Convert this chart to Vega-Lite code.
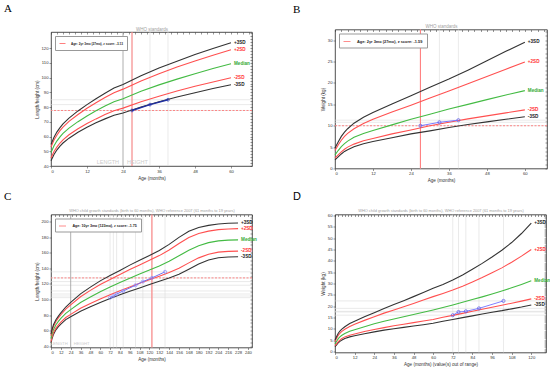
{
"$schema":"https://vega.github.io/schema/vega-lite/v6.json",
"padding":{"left":3,"top":2.5,"right":2,"bottom":2},
"background":"white",
"config":{"font":"Liberation Sans","view":{"stroke":"#222","strokeWidth":0.8},
"axis":{"grid":false,"domain":false,"labelOverlap":false,"labelFontSize":4.2,"titleFontSize":4.6,"titleFontWeight":"normal","labelColor":"#333","titleColor":"#333","tickSize":2,"tickWidth":0.5,"tickColor":"#333","labelPadding":1,"titlePadding":2},
"title":{"fontWeight":"normal","color":"#000","anchor":"start","frame":"group"}},
"datasets":{
"A_curves":[
{"month":0,"value":43.6,"sd":"-3SD"},{"month":1,"value":47.8,"sd":"-3SD"},{"month":2,"value":51.0,"sd":"-3SD"},{"month":3,"value":53.5,"sd":"-3SD"},{"month":4,"value":55.6,"sd":"-3SD"},{"month":6,"value":58.9,"sd":"-3SD"},{"month":9,"value":62.9,"sd":"-3SD"},{"month":12,"value":66.3,"sd":"-3SD"},{"month":15,"value":69.3,"sd":"-3SD"},{"month":18,"value":72.0,"sd":"-3SD"},{"month":21,"value":74.5,"sd":"-3SD"},{"month":24,"value":76.0,"sd":"-3SD"},{"month":30,"value":80.1,"sd":"-3SD"},{"month":36,"value":83.6,"sd":"-3SD"},{"month":42,"value":86.8,"sd":"-3SD"},{"month":48,"value":89.8,"sd":"-3SD"},{"month":54,"value":92.6,"sd":"-3SD"},{"month":60,"value":95.2,"sd":"-3SD"},
{"month":0,"value":45.4,"sd":"-2SD"},{"month":1,"value":49.8,"sd":"-2SD"},{"month":2,"value":53.0,"sd":"-2SD"},{"month":3,"value":55.6,"sd":"-2SD"},{"month":4,"value":57.8,"sd":"-2SD"},{"month":6,"value":61.2,"sd":"-2SD"},{"month":9,"value":65.3,"sd":"-2SD"},{"month":12,"value":68.9,"sd":"-2SD"},{"month":15,"value":72.0,"sd":"-2SD"},{"month":18,"value":74.9,"sd":"-2SD"},{"month":21,"value":77.5,"sd":"-2SD"},{"month":24,"value":79.3,"sd":"-2SD"},{"month":30,"value":83.6,"sd":"-2SD"},{"month":36,"value":87.4,"sd":"-2SD"},{"month":42,"value":90.9,"sd":"-2SD"},{"month":48,"value":94.1,"sd":"-2SD"},{"month":54,"value":97.1,"sd":"-2SD"},{"month":60,"value":99.9,"sd":"-2SD"},
{"month":0,"value":49.1,"sd":"Median"},{"month":1,"value":53.7,"sd":"Median"},{"month":2,"value":57.1,"sd":"Median"},{"month":3,"value":59.8,"sd":"Median"},{"month":4,"value":62.1,"sd":"Median"},{"month":6,"value":65.7,"sd":"Median"},{"month":9,"value":70.1,"sd":"Median"},{"month":12,"value":74.0,"sd":"Median"},{"month":15,"value":77.5,"sd":"Median"},{"month":18,"value":80.7,"sd":"Median"},{"month":21,"value":83.7,"sd":"Median"},{"month":24,"value":85.7,"sd":"Median"},{"month":30,"value":90.7,"sd":"Median"},{"month":36,"value":95.1,"sd":"Median"},{"month":42,"value":99.0,"sd":"Median"},{"month":48,"value":102.7,"sd":"Median"},{"month":54,"value":106.2,"sd":"Median"},{"month":60,"value":109.4,"sd":"Median"},
{"month":0,"value":52.9,"sd":"+2SD"},{"month":1,"value":57.6,"sd":"+2SD"},{"month":2,"value":61.1,"sd":"+2SD"},{"month":3,"value":64.0,"sd":"+2SD"},{"month":4,"value":66.4,"sd":"+2SD"},{"month":6,"value":70.3,"sd":"+2SD"},{"month":9,"value":75.0,"sd":"+2SD"},{"month":12,"value":79.2,"sd":"+2SD"},{"month":15,"value":83.0,"sd":"+2SD"},{"month":18,"value":86.5,"sd":"+2SD"},{"month":21,"value":89.8,"sd":"+2SD"},{"month":24,"value":92.2,"sd":"+2SD"},{"month":30,"value":97.7,"sd":"+2SD"},{"month":36,"value":102.7,"sd":"+2SD"},{"month":42,"value":107.2,"sd":"+2SD"},{"month":48,"value":111.3,"sd":"+2SD"},{"month":54,"value":115.2,"sd":"+2SD"},{"month":60,"value":118.9,"sd":"+2SD"},
{"month":0,"value":54.7,"sd":"+3SD"},{"month":1,"value":59.5,"sd":"+3SD"},{"month":2,"value":63.2,"sd":"+3SD"},{"month":3,"value":66.1,"sd":"+3SD"},{"month":4,"value":68.6,"sd":"+3SD"},{"month":6,"value":72.5,"sd":"+3SD"},{"month":9,"value":77.4,"sd":"+3SD"},{"month":12,"value":81.7,"sd":"+3SD"},{"month":15,"value":85.7,"sd":"+3SD"},{"month":18,"value":89.4,"sd":"+3SD"},{"month":21,"value":92.9,"sd":"+3SD"},{"month":24,"value":95.4,"sd":"+3SD"},{"month":30,"value":101.3,"sd":"+3SD"},{"month":36,"value":106.5,"sd":"+3SD"},{"month":42,"value":111.2,"sd":"+3SD"},{"month":48,"value":115.7,"sd":"+3SD"},{"month":54,"value":119.8,"sd":"+3SD"},{"month":60,"value":123.7,"sd":"+3SD"}],
"B_curves":[
{"month":0,"value":2.0,"sd":"-3SD"},{"month":1,"value":2.7,"sd":"-3SD"},{"month":2,"value":3.4,"sd":"-3SD"},{"month":3,"value":4.0,"sd":"-3SD"},{"month":4,"value":4.4,"sd":"-3SD"},{"month":6,"value":5.1,"sd":"-3SD"},{"month":9,"value":5.8,"sd":"-3SD"},{"month":12,"value":6.3,"sd":"-3SD"},{"month":18,"value":7.2,"sd":"-3SD"},{"month":24,"value":8.1,"sd":"-3SD"},{"month":30,"value":8.8,"sd":"-3SD"},{"month":36,"value":9.6,"sd":"-3SD"},{"month":42,"value":10.3,"sd":"-3SD"},{"month":48,"value":10.9,"sd":"-3SD"},{"month":54,"value":11.5,"sd":"-3SD"},{"month":60,"value":12.1,"sd":"-3SD"},
{"month":0,"value":2.4,"sd":"-2SD"},{"month":1,"value":3.2,"sd":"-2SD"},{"month":2,"value":3.9,"sd":"-2SD"},{"month":3,"value":4.5,"sd":"-2SD"},{"month":4,"value":5.0,"sd":"-2SD"},{"month":6,"value":5.7,"sd":"-2SD"},{"month":9,"value":6.5,"sd":"-2SD"},{"month":12,"value":7.0,"sd":"-2SD"},{"month":18,"value":8.1,"sd":"-2SD"},{"month":24,"value":9.0,"sd":"-2SD"},{"month":30,"value":10.0,"sd":"-2SD"},{"month":36,"value":10.8,"sd":"-2SD"},{"month":42,"value":11.6,"sd":"-2SD"},{"month":48,"value":12.3,"sd":"-2SD"},{"month":54,"value":13.0,"sd":"-2SD"},{"month":60,"value":13.7,"sd":"-2SD"},
{"month":0,"value":3.2,"sd":"Median"},{"month":1,"value":4.2,"sd":"Median"},{"month":2,"value":5.1,"sd":"Median"},{"month":3,"value":5.8,"sd":"Median"},{"month":4,"value":6.4,"sd":"Median"},{"month":6,"value":7.3,"sd":"Median"},{"month":9,"value":8.2,"sd":"Median"},{"month":12,"value":8.9,"sd":"Median"},{"month":18,"value":10.2,"sd":"Median"},{"month":24,"value":11.5,"sd":"Median"},{"month":30,"value":12.7,"sd":"Median"},{"month":36,"value":13.9,"sd":"Median"},{"month":42,"value":15.0,"sd":"Median"},{"month":48,"value":16.1,"sd":"Median"},{"month":54,"value":17.2,"sd":"Median"},{"month":60,"value":18.2,"sd":"Median"},
{"month":0,"value":4.2,"sd":"+2SD"},{"month":1,"value":5.5,"sd":"+2SD"},{"month":2,"value":6.6,"sd":"+2SD"},{"month":3,"value":7.5,"sd":"+2SD"},{"month":4,"value":8.2,"sd":"+2SD"},{"month":6,"value":9.3,"sd":"+2SD"},{"month":9,"value":10.5,"sd":"+2SD"},{"month":12,"value":11.5,"sd":"+2SD"},{"month":18,"value":13.2,"sd":"+2SD"},{"month":24,"value":14.8,"sd":"+2SD"},{"month":30,"value":16.5,"sd":"+2SD"},{"month":36,"value":18.1,"sd":"+2SD"},{"month":42,"value":19.8,"sd":"+2SD"},{"month":48,"value":21.5,"sd":"+2SD"},{"month":54,"value":23.2,"sd":"+2SD"},{"month":60,"value":24.9,"sd":"+2SD"},
{"month":0,"value":4.8,"sd":"+3SD"},{"month":1,"value":6.2,"sd":"+3SD"},{"month":2,"value":7.5,"sd":"+3SD"},{"month":3,"value":8.5,"sd":"+3SD"},{"month":4,"value":9.3,"sd":"+3SD"},{"month":6,"value":10.6,"sd":"+3SD"},{"month":9,"value":12.0,"sd":"+3SD"},{"month":12,"value":13.1,"sd":"+3SD"},{"month":18,"value":15.1,"sd":"+3SD"},{"month":24,"value":17.0,"sd":"+3SD"},{"month":30,"value":19.0,"sd":"+3SD"},{"month":36,"value":20.9,"sd":"+3SD"},{"month":42,"value":23.0,"sd":"+3SD"},{"month":48,"value":25.2,"sd":"+3SD"},{"month":54,"value":27.4,"sd":"+3SD"},{"month":60,"value":29.5,"sd":"+3SD"}],
"C_curves":[
{"month":0,"value":44.2,"sd":"-3SD"},{"month":1,"value":48.9,"sd":"-3SD"},{"month":3,"value":55.3,"sd":"-3SD"},{"month":6,"value":61.2,"sd":"-3SD"},{"month":9,"value":65.2,"sd":"-3SD"},{"month":12,"value":68.6,"sd":"-3SD"},{"month":18,"value":74.2,"sd":"-3SD"},{"month":24,"value":78.0,"sd":"-3SD"},{"month":36,"value":85.0,"sd":"-3SD"},{"month":48,"value":90.7,"sd":"-3SD"},{"month":60,"value":96.1,"sd":"-3SD"},{"month":72,"value":101.3,"sd":"-3SD"},{"month":84,"value":106.1,"sd":"-3SD"},{"month":96,"value":110.5,"sd":"-3SD"},{"month":108,"value":114.9,"sd":"-3SD"},{"month":120,"value":119.2,"sd":"-3SD"},{"month":132,"value":123.3,"sd":"-3SD"},{"month":144,"value":127.5,"sd":"-3SD"},{"month":156,"value":132.3,"sd":"-3SD"},{"month":168,"value":138.9,"sd":"-3SD"},{"month":180,"value":145.6,"sd":"-3SD"},{"month":192,"value":150.7,"sd":"-3SD"},{"month":204,"value":153.6,"sd":"-3SD"},{"month":216,"value":154.5,"sd":"-3SD"},{"month":228,"value":154.9,"sd":"-3SD"},
{"month":0,"value":46.1,"sd":"-2SD"},{"month":1,"value":50.8,"sd":"-2SD"},{"month":3,"value":57.3,"sd":"-2SD"},{"month":6,"value":63.3,"sd":"-2SD"},{"month":9,"value":67.5,"sd":"-2SD"},{"month":12,"value":71.0,"sd":"-2SD"},{"month":18,"value":76.9,"sd":"-2SD"},{"month":24,"value":81.0,"sd":"-2SD"},{"month":36,"value":88.7,"sd":"-2SD"},{"month":48,"value":94.9,"sd":"-2SD"},{"month":60,"value":100.7,"sd":"-2SD"},{"month":72,"value":106.2,"sd":"-2SD"},{"month":84,"value":111.3,"sd":"-2SD"},{"month":96,"value":116.1,"sd":"-2SD"},{"month":108,"value":120.8,"sd":"-2SD"},{"month":120,"value":125.4,"sd":"-2SD"},{"month":132,"value":129.9,"sd":"-2SD"},{"month":144,"value":134.7,"sd":"-2SD"},{"month":156,"value":140.2,"sd":"-2SD"},{"month":168,"value":147.0,"sd":"-2SD"},{"month":180,"value":153.4,"sd":"-2SD"},{"month":192,"value":158.1,"sd":"-2SD"},{"month":204,"value":160.8,"sd":"-2SD"},{"month":216,"value":161.7,"sd":"-2SD"},{"month":228,"value":162.1,"sd":"-2SD"},
{"month":0,"value":49.9,"sd":"Median"},{"month":1,"value":54.7,"sd":"Median"},{"month":3,"value":61.4,"sd":"Median"},{"month":6,"value":67.6,"sd":"Median"},{"month":9,"value":72.0,"sd":"Median"},{"month":12,"value":75.7,"sd":"Median"},{"month":18,"value":82.3,"sd":"Median"},{"month":24,"value":87.1,"sd":"Median"},{"month":36,"value":96.1,"sd":"Median"},{"month":48,"value":103.3,"sd":"Median"},{"month":60,"value":110.0,"sd":"Median"},{"month":72,"value":116.0,"sd":"Median"},{"month":84,"value":121.7,"sd":"Median"},{"month":96,"value":127.3,"sd":"Median"},{"month":108,"value":132.6,"sd":"Median"},{"month":120,"value":137.8,"sd":"Median"},{"month":132,"value":143.1,"sd":"Median"},{"month":144,"value":149.1,"sd":"Median"},{"month":156,"value":156.0,"sd":"Median"},{"month":168,"value":163.2,"sd":"Median"},{"month":180,"value":169.0,"sd":"Median"},{"month":192,"value":172.9,"sd":"Median"},{"month":204,"value":175.2,"sd":"Median"},{"month":216,"value":176.1,"sd":"Median"},{"month":228,"value":176.5,"sd":"Median"},
{"month":0,"value":53.7,"sd":"+2SD"},{"month":1,"value":58.6,"sd":"+2SD"},{"month":3,"value":65.5,"sd":"+2SD"},{"month":6,"value":71.9,"sd":"+2SD"},{"month":9,"value":76.5,"sd":"+2SD"},{"month":12,"value":80.5,"sd":"+2SD"},{"month":18,"value":87.7,"sd":"+2SD"},{"month":24,"value":93.2,"sd":"+2SD"},{"month":36,"value":103.5,"sd":"+2SD"},{"month":48,"value":111.7,"sd":"+2SD"},{"month":60,"value":119.2,"sd":"+2SD"},{"month":72,"value":125.8,"sd":"+2SD"},{"month":84,"value":132.1,"sd":"+2SD"},{"month":96,"value":138.5,"sd":"+2SD"},{"month":108,"value":144.4,"sd":"+2SD"},{"month":120,"value":150.2,"sd":"+2SD"},{"month":132,"value":156.3,"sd":"+2SD"},{"month":144,"value":163.5,"sd":"+2SD"},{"month":156,"value":171.8,"sd":"+2SD"},{"month":168,"value":179.4,"sd":"+2SD"},{"month":180,"value":184.6,"sd":"+2SD"},{"month":192,"value":187.7,"sd":"+2SD"},{"month":204,"value":189.6,"sd":"+2SD"},{"month":216,"value":190.5,"sd":"+2SD"},{"month":228,"value":190.9,"sd":"+2SD"},
{"month":0,"value":55.6,"sd":"+3SD"},{"month":1,"value":60.6,"sd":"+3SD"},{"month":3,"value":67.6,"sd":"+3SD"},{"month":6,"value":74.0,"sd":"+3SD"},{"month":9,"value":78.7,"sd":"+3SD"},{"month":12,"value":82.9,"sd":"+3SD"},{"month":18,"value":90.4,"sd":"+3SD"},{"month":24,"value":96.3,"sd":"+3SD"},{"month":36,"value":107.2,"sd":"+3SD"},{"month":48,"value":115.9,"sd":"+3SD"},{"month":60,"value":123.9,"sd":"+3SD"},{"month":72,"value":130.7,"sd":"+3SD"},{"month":84,"value":137.3,"sd":"+3SD"},{"month":96,"value":144.1,"sd":"+3SD"},{"month":108,"value":150.3,"sd":"+3SD"},{"month":120,"value":156.4,"sd":"+3SD"},{"month":132,"value":162.9,"sd":"+3SD"},{"month":144,"value":170.7,"sd":"+3SD"},{"month":156,"value":179.7,"sd":"+3SD"},{"month":168,"value":187.5,"sd":"+3SD"},{"month":180,"value":192.4,"sd":"+3SD"},{"month":192,"value":195.1,"sd":"+3SD"},{"month":204,"value":196.8,"sd":"+3SD"},{"month":216,"value":197.7,"sd":"+3SD"},{"month":228,"value":198.1,"sd":"+3SD"}],
"D_curves":[
{"month":0,"value":2.1,"sd":"-3SD"},{"month":1,"value":2.9,"sd":"-3SD"},{"month":2,"value":3.8,"sd":"-3SD"},{"month":3,"value":4.4,"sd":"-3SD"},{"month":4,"value":4.9,"sd":"-3SD"},{"month":6,"value":5.7,"sd":"-3SD"},{"month":9,"value":6.4,"sd":"-3SD"},{"month":12,"value":6.9,"sd":"-3SD"},{"month":18,"value":7.8,"sd":"-3SD"},{"month":24,"value":8.6,"sd":"-3SD"},{"month":30,"value":9.4,"sd":"-3SD"},{"month":36,"value":10.0,"sd":"-3SD"},{"month":42,"value":10.6,"sd":"-3SD"},{"month":48,"value":11.2,"sd":"-3SD"},{"month":54,"value":11.8,"sd":"-3SD"},{"month":60,"value":12.4,"sd":"-3SD"},{"month":66,"value":13.3,"sd":"-3SD"},{"month":72,"value":14.1,"sd":"-3SD"},{"month":78,"value":14.9,"sd":"-3SD"},{"month":84,"value":15.7,"sd":"-3SD"},{"month":90,"value":16.5,"sd":"-3SD"},{"month":96,"value":17.3,"sd":"-3SD"},{"month":102,"value":18.0,"sd":"-3SD"},{"month":108,"value":18.8,"sd":"-3SD"},{"month":114,"value":19.6,"sd":"-3SD"},{"month":120,"value":20.5,"sd":"-3SD"},
{"month":0,"value":2.5,"sd":"-2SD"},{"month":1,"value":3.4,"sd":"-2SD"},{"month":2,"value":4.3,"sd":"-2SD"},{"month":3,"value":5.0,"sd":"-2SD"},{"month":4,"value":5.6,"sd":"-2SD"},{"month":6,"value":6.4,"sd":"-2SD"},{"month":9,"value":7.1,"sd":"-2SD"},{"month":12,"value":7.7,"sd":"-2SD"},{"month":18,"value":8.8,"sd":"-2SD"},{"month":24,"value":9.7,"sd":"-2SD"},{"month":30,"value":10.5,"sd":"-2SD"},{"month":36,"value":11.3,"sd":"-2SD"},{"month":42,"value":12.0,"sd":"-2SD"},{"month":48,"value":12.7,"sd":"-2SD"},{"month":54,"value":13.4,"sd":"-2SD"},{"month":60,"value":14.1,"sd":"-2SD"},{"month":66,"value":15.1,"sd":"-2SD"},{"month":72,"value":15.9,"sd":"-2SD"},{"month":78,"value":16.8,"sd":"-2SD"},{"month":84,"value":17.7,"sd":"-2SD"},{"month":90,"value":18.6,"sd":"-2SD"},{"month":96,"value":19.5,"sd":"-2SD"},{"month":102,"value":20.4,"sd":"-2SD"},{"month":108,"value":21.3,"sd":"-2SD"},{"month":114,"value":22.2,"sd":"-2SD"},{"month":120,"value":23.2,"sd":"-2SD"},
{"month":0,"value":3.3,"sd":"Median"},{"month":1,"value":4.5,"sd":"Median"},{"month":2,"value":5.6,"sd":"Median"},{"month":3,"value":6.4,"sd":"Median"},{"month":4,"value":7.0,"sd":"Median"},{"month":6,"value":7.9,"sd":"Median"},{"month":9,"value":8.9,"sd":"Median"},{"month":12,"value":9.6,"sd":"Median"},{"month":18,"value":10.9,"sd":"Median"},{"month":24,"value":12.2,"sd":"Median"},{"month":30,"value":13.3,"sd":"Median"},{"month":36,"value":14.3,"sd":"Median"},{"month":42,"value":15.3,"sd":"Median"},{"month":48,"value":16.3,"sd":"Median"},{"month":54,"value":17.3,"sd":"Median"},{"month":60,"value":18.3,"sd":"Median"},{"month":66,"value":19.4,"sd":"Median"},{"month":72,"value":20.5,"sd":"Median"},{"month":78,"value":21.7,"sd":"Median"},{"month":84,"value":22.9,"sd":"Median"},{"month":90,"value":24.1,"sd":"Median"},{"month":96,"value":25.4,"sd":"Median"},{"month":102,"value":26.7,"sd":"Median"},{"month":108,"value":28.1,"sd":"Median"},{"month":114,"value":29.6,"sd":"Median"},{"month":120,"value":31.2,"sd":"Median"},
{"month":0,"value":4.4,"sd":"+2SD"},{"month":1,"value":5.8,"sd":"+2SD"},{"month":2,"value":7.1,"sd":"+2SD"},{"month":3,"value":8.0,"sd":"+2SD"},{"month":4,"value":8.7,"sd":"+2SD"},{"month":6,"value":9.8,"sd":"+2SD"},{"month":9,"value":11.0,"sd":"+2SD"},{"month":12,"value":12.0,"sd":"+2SD"},{"month":18,"value":13.7,"sd":"+2SD"},{"month":24,"value":15.3,"sd":"+2SD"},{"month":30,"value":16.9,"sd":"+2SD"},{"month":36,"value":18.3,"sd":"+2SD"},{"month":42,"value":19.7,"sd":"+2SD"},{"month":48,"value":21.2,"sd":"+2SD"},{"month":54,"value":22.7,"sd":"+2SD"},{"month":60,"value":24.2,"sd":"+2SD"},{"month":66,"value":25.6,"sd":"+2SD"},{"month":72,"value":27.1,"sd":"+2SD"},{"month":78,"value":28.8,"sd":"+2SD"},{"month":84,"value":30.7,"sd":"+2SD"},{"month":90,"value":32.6,"sd":"+2SD"},{"month":96,"value":34.7,"sd":"+2SD"},{"month":102,"value":36.9,"sd":"+2SD"},{"month":108,"value":39.4,"sd":"+2SD"},{"month":114,"value":42.1,"sd":"+2SD"},{"month":120,"value":45.0,"sd":"+2SD"},
{"month":0,"value":5.0,"sd":"+3SD"},{"month":1,"value":6.6,"sd":"+3SD"},{"month":2,"value":8.0,"sd":"+3SD"},{"month":3,"value":9.0,"sd":"+3SD"},{"month":4,"value":9.7,"sd":"+3SD"},{"month":6,"value":10.9,"sd":"+3SD"},{"month":9,"value":12.3,"sd":"+3SD"},{"month":12,"value":13.3,"sd":"+3SD"},{"month":18,"value":15.3,"sd":"+3SD"},{"month":24,"value":17.1,"sd":"+3SD"},{"month":30,"value":19.0,"sd":"+3SD"},{"month":36,"value":20.7,"sd":"+3SD"},{"month":42,"value":22.4,"sd":"+3SD"},{"month":48,"value":24.2,"sd":"+3SD"},{"month":54,"value":26.0,"sd":"+3SD"},{"month":60,"value":27.9,"sd":"+3SD"},{"month":66,"value":29.6,"sd":"+3SD"},{"month":72,"value":31.5,"sd":"+3SD"},{"month":78,"value":33.8,"sd":"+3SD"},{"month":84,"value":36.3,"sd":"+3SD"},{"month":90,"value":38.9,"sd":"+3SD"},{"month":96,"value":41.7,"sd":"+3SD"},{"month":102,"value":44.7,"sd":"+3SD"},{"month":108,"value":48.1,"sd":"+3SD"},{"month":114,"value":52.1,"sd":"+3SD"},{"month":120,"value":56.7,"sd":"+3SD"}],
"A_pts":[{"month":27,"value":77.7},{"month":33,"value":81.7},{"month":39,"value":85.0}],
"B_pts":[{"month":27,"value":10.0},{"month":33,"value":10.8},{"month":39,"value":11.3}],
"C_pts":[{"month":72,"value":102.4},{"month":76,"value":104.5},{"month":80,"value":107.1},{"month":88,"value":111.0},{"month":103,"value":118.3},{"month":112,"value":123.0},{"month":123,"value":127.7},{"month":139,"value":135.5}],
"D_pts":[{"month":72,"value":16.0},{"month":75.5,"value":17.4},{"month":80,"value":17.7},{"month":88,"value":19.0},{"month":103,"value":22.3}],
"A_sel":[{"month":27,"value":77.7,"label":"Age: 2yr 3mo (27mo), z score: -3.13"}],
"B_sel":[{"month":27,"value":10.0,"label":"Age: 2yr 3mo (27mo), z score: -1.59"}],
"C_sel":[{"month":123,"value":127.7,"label":"Age: 10yr 3mo (123mo), z score: -1.75"}],
"LH":[{"month":24,"left":"LENGTH","right":"HEIGHT"}]
},
"columns":2,
"bounds":"flush",
"center":{"row":true,"column":false},
"spacing":{"row":46,"column":83},
"resolve":{"scale":{"color":"independent","stroke":"independent","fill":"independent"},"legend":{"color":"independent"}},
"concat":[
{"width":201,"height":134,
"title":{"text":"A","font":"Liberation Serif","fontSize":11,"dx":-47,"offset":12.3},
"layer":[
{"layer":[
{"data":{"name":"A_pts"},"mark":{"type":"rule","color":"#dcdcdc","strokeWidth":0.6},"encoding":{"x":{"field":"month","type":"quantitative","scale":{"domain":[0,67],"nice":false,"zero":false},"axis":{"values":[0,12,24,36,48,60],"tickCount":100,"format":"d","labelOverlap":false,"title":"Age (months)"}}}},
{"data":{"name":"A_pts"},"mark":{"type":"rule","color":"#dcdcdc","strokeWidth":0.6},"encoding":{"y":{"field":"value","type":"quantitative","scale":{"domain":[40,131],"nice":false,"zero":false},"axis":{"values":[40,50,60,70,80,90,100,110,120],"tickCount":100,"format":"d","labelOverlap":false,"title":"Length/height (cm)"}}}},
{"data":{"name":"LH"},"mark":{"type":"rule","color":"#999","strokeWidth":0.8},"encoding":{"x":{"field":"month","type":"quantitative"}}},
{"data":{"name":"A_sel"},"mark":{"type":"rule","color":"#ff6b6b","strokeWidth":0.8,"strokeDash":[2,1.5]},"encoding":{"y":{"field":"value","type":"quantitative"}}},
{"data":{"name":"A_sel"},"mark":{"type":"rule","strokeWidth":0.9},"encoding":{"x":{"field":"month","type":"quantitative"},"color":{"field":"label","type":"nominal","scale":{"range":["#ff7070"]},"legend":{"orient":"top-left","title":null,"offset":4,"padding":4,"strokeColor":"#999","fillColor":"#fff","labelFontSize":3.1,"labelFontWeight":"bold","labelColor":"#222","symbolType":"stroke","symbolSize":36,"symbolStrokeWidth":0.9,"labelOffset":5,"labelLimit":300}}}},
{"data":{"name":"A_curves"},"mark":{"type":"line","strokeWidth":1.1},"encoding":{"x":{"field":"month","type":"quantitative"},"y":{"field":"value","type":"quantitative"},"stroke":{"field":"sd","type":"nominal","scale":{"domain":["+3SD","+2SD","Median","-2SD","-3SD"],"range":["#333","#ff5050","#44bb44","#ff5050","#333"]},"legend":null}}},
{"data":{"name":"A_pts"},"mark":{"type":"line","color":"#1f2f9f","strokeWidth":1.4,"point":{"filled":false,"size":8,"strokeWidth":0.7,"color":"#2838b8"}},"encoding":{"x":{"field":"month","type":"quantitative"},"y":{"field":"value","type":"quantitative"}}},
{"data":{"name":"A_curves"},"transform":[{"filter":"datum.month == 60"}],"mark":{"type":"text","align":"left","baseline":"middle","dx":3,"fontSize":4.6,"fontWeight":"bold"},"encoding":{"x":{"field":"month","type":"quantitative"},"y":{"field":"value","type":"quantitative"},"text":{"field":"sd"},"fill":{"field":"sd","type":"nominal","scale":{"domain":["+3SD","+2SD","Median","-2SD","-3SD"],"range":["#222","#ff3333","#33aa33","#ff3333","#222"]},"legend":null}}},
{"data":{"name":"LH"},"mark":{"type":"text","align":"right","baseline":"bottom","dx":-4,"dy":-1.5,"fontSize":5.5,"color":"#cccccc"},"encoding":{"x":{"field":"month","type":"quantitative"},"y":{"datum":40,"type":"quantitative"},"text":{"field":"left"}}},
{"data":{"name":"LH"},"mark":{"type":"text","align":"left","baseline":"bottom","dx":4,"dy":-1.5,"fontSize":5.5,"color":"#cccccc"},"encoding":{"x":{"field":"month","type":"quantitative"},"y":{"datum":40,"type":"quantitative"},"text":{"field":"right"}}}
]},
{"data":{"values":[{"month":0,"value":40}]},"mark":{"type":"point","opacity":0},"encoding":{"x":{"field":"month","type":"quantitative","scale":{"domain":[0,67],"nice":false,"zero":false},"axis":{"orient":"top","labels":false,"tickCount":34,"tickSize":-2,"title":"WHO standards","titleFontSize":4.5,"titleColor":"#a0a0a0","titlePadding":0}},"y":{"field":"value","type":"quantitative","scale":{"domain":[40,131],"nice":false,"zero":false},"axis":{"orient":"right","labels":false,"tickCount":46,"tickSize":-2,"title":null}}}}
],
"resolve":{"axis":{"x":"independent","y":"independent"}}},

{"width":212,"height":139,
"title":{"text":"B","font":"Liberation Serif","fontSize":11,"dx":-42,"offset":8.85},
"layer":[
{"layer":[
{"data":{"name":"B_pts"},"mark":{"type":"rule","color":"#dcdcdc","strokeWidth":0.6},"encoding":{"x":{"field":"month","type":"quantitative","scale":{"domain":[0,67],"nice":false,"zero":false},"axis":{"values":[0,12,24,36,48,60],"tickCount":100,"format":"d","labelOverlap":false,"title":"Age (months)"}}}},
{"data":{"name":"B_pts"},"mark":{"type":"rule","color":"#dcdcdc","strokeWidth":0.6},"encoding":{"y":{"field":"value","type":"quantitative","scale":{"domain":[0,32.5],"nice":false,"zero":false},"axis":{"values":[0,5,10,15,20,25,30],"tickCount":100,"format":"d","labelOverlap":false,"title":"Weight (kg)"}}}},
{"data":{"name":"B_sel"},"mark":{"type":"rule","color":"#ff6b6b","strokeWidth":0.8,"strokeDash":[2,1.5]},"encoding":{"y":{"field":"value","type":"quantitative"}}},
{"data":{"name":"B_sel"},"mark":{"type":"rule","strokeWidth":1.1},"encoding":{"x":{"field":"month","type":"quantitative"},"color":{"field":"label","type":"nominal","scale":{"range":["#ff8080"]},"legend":{"orient":"top-left","title":null,"offset":4,"padding":4,"strokeColor":"#999","fillColor":"#fff","labelFontSize":3.9,"labelFontWeight":"bold","labelColor":"#222","symbolType":"stroke","symbolSize":49,"symbolStrokeWidth":0.9,"labelOffset":6,"labelLimit":300}}}},
{"data":{"name":"B_curves"},"mark":{"type":"line","strokeWidth":1.1},"encoding":{"x":{"field":"month","type":"quantitative"},"y":{"field":"value","type":"quantitative"},"stroke":{"field":"sd","type":"nominal","scale":{"domain":["+3SD","+2SD","Median","-2SD","-3SD"],"range":["#333","#ff5050","#44bb44","#ff5050","#333"]},"legend":null}}},
{"data":{"name":"B_pts"},"mark":{"type":"line","color":"#7a7aff","strokeWidth":1,"point":{"filled":false,"size":10,"strokeWidth":0.7,"color":"#5a5ae6"}},"encoding":{"x":{"field":"month","type":"quantitative"},"y":{"field":"value","type":"quantitative"}}},
{"data":{"name":"B_curves"},"transform":[{"filter":"datum.month == 60"}],"mark":{"type":"text","align":"left","baseline":"middle","dx":3,"fontSize":4.6,"fontWeight":"bold"},"encoding":{"x":{"field":"month","type":"quantitative"},"y":{"field":"value","type":"quantitative"},"text":{"field":"sd"},"fill":{"field":"sd","type":"nominal","scale":{"domain":["+3SD","+2SD","Median","-2SD","-3SD"],"range":["#222","#ff3333","#33aa33","#ff3333","#222"]},"legend":null}}}
]},
{"data":{"values":[{"month":0,"value":0}]},"mark":{"type":"point","opacity":0},"encoding":{"x":{"field":"month","type":"quantitative","scale":{"domain":[0,67],"nice":false,"zero":false},"axis":{"orient":"top","labels":false,"tickCount":34,"tickSize":-2,"title":"WHO standards","titleFontSize":4.5,"titleColor":"#a0a0a0","titlePadding":0.75}},"y":{"field":"value","type":"quantitative","scale":{"domain":[0,32.5],"nice":false,"zero":false},"axis":{"orient":"right","labels":false,"tickCount":33,"tickSize":-2,"title":null}}}}
],
"resolve":{"axis":{"x":"independent","y":"independent"}}},

{"width":201,"height":133,
"title":{"text":"C","font":"Liberation Serif","fontSize":11,"dx":-47,"offset":6.85},
"layer":[
{"layer":[
{"data":{"name":"C_pts"},"mark":{"type":"rule","color":"#dcdcdc","strokeWidth":0.6},"encoding":{"x":{"field":"month","type":"quantitative","scale":{"domain":[0,245],"nice":false,"zero":false},"axis":{"values":[0,12,24,36,48,60,72,84,96,108,120,132,144,156,168,180,192,204,216,228,240],"tickCount":100,"format":"d","labelOverlap":false,"title":"Age (months)"}}}},
{"data":{"name":"C_pts"},"mark":{"type":"rule","color":"#dcdcdc","strokeWidth":0.6},"encoding":{"y":{"field":"value","type":"quantitative","scale":{"domain":[38.5,209],"nice":false,"zero":false},"axis":{"values":[40,60,80,100,120,140,160,180,200],"tickCount":100,"format":"d","labelOverlap":false,"title":"Length/height (cm)"}}}},
{"data":{"name":"LH"},"mark":{"type":"rule","color":"#999","strokeWidth":0.8},"encoding":{"x":{"field":"month","type":"quantitative"}}},
{"data":{"name":"C_sel"},"mark":{"type":"rule","color":"#ff6b6b","strokeWidth":0.8,"strokeDash":[2,1.5]},"encoding":{"y":{"field":"value","type":"quantitative"}}},
{"data":{"name":"C_sel"},"mark":{"type":"rule","strokeWidth":1.1},"encoding":{"x":{"field":"month","type":"quantitative"},"color":{"field":"label","type":"nominal","scale":{"range":["#ff8080"]},"legend":{"orient":"top-left","title":null,"offset":4,"padding":3.5,"strokeColor":"#999","fillColor":"#fff","labelFontSize":3.6,"labelFontWeight":"bold","labelColor":"#222","symbolType":"stroke","symbolSize":49,"symbolStrokeWidth":0.9,"labelOffset":6,"labelLimit":300}}}},
{"data":{"name":"C_curves"},"mark":{"type":"line","strokeWidth":1.1},"encoding":{"x":{"field":"month","type":"quantitative"},"y":{"field":"value","type":"quantitative"},"stroke":{"field":"sd","type":"nominal","scale":{"domain":["+3SD","+2SD","Median","-2SD","-3SD"],"range":["#333","#ff5050","#44bb44","#ff5050","#333"]},"legend":null}}},
{"data":{"name":"C_pts"},"mark":{"type":"line","color":"#7070f0","strokeWidth":1,"point":{"filled":false,"size":10,"strokeWidth":0.7,"color":"#8a8aff"}},"encoding":{"x":{"field":"month","type":"quantitative"},"y":{"field":"value","type":"quantitative"}}},
{"data":{"name":"C_curves"},"transform":[{"filter":"datum.month == 228"}],"mark":{"type":"text","align":"left","baseline":"middle","dx":3,"fontSize":4.6,"fontWeight":"bold"},"encoding":{"x":{"field":"month","type":"quantitative"},"y":{"field":"value","type":"quantitative"},"text":{"field":"sd"},"fill":{"field":"sd","type":"nominal","scale":{"domain":["+3SD","+2SD","Median","-2SD","-3SD"],"range":["#222","#ff3333","#33aa33","#ff3333","#222"]},"legend":null}}},
{"data":{"name":"LH"},"mark":{"type":"text","align":"right","baseline":"bottom","dx":-3,"dy":-1.5,"fontSize":4.2,"color":"#cccccc"},"encoding":{"x":{"field":"month","type":"quantitative"},"y":{"datum":38.5,"type":"quantitative"},"text":{"field":"left"}}},
{"data":{"name":"LH"},"mark":{"type":"text","align":"left","baseline":"bottom","dx":3,"dy":-1.5,"fontSize":4.2,"color":"#cccccc"},"encoding":{"x":{"field":"month","type":"quantitative"},"y":{"datum":38.5,"type":"quantitative"},"text":{"field":"right"}}}
]},
{"data":{"values":[{"month":0,"value":40}]},"mark":{"type":"point","opacity":0},"encoding":{"x":{"field":"month","type":"quantitative","scale":{"domain":[0,245],"nice":false,"zero":false},"axis":{"orient":"top","labels":false,"tickCount":49,"tickSize":-2,"title":"WHO child growth standards (birth to 60 months), WHO reference 2007 (61 months to 19 years)","titleFontSize":3.9,"titleColor":"#a0a0a0","titlePadding":1.75}},"y":{"field":"value","type":"quantitative","scale":{"domain":[38.5,209],"nice":false,"zero":false},"axis":{"orient":"right","labels":false,"tickCount":34,"tickSize":-2,"title":null}}}}
],
"resolve":{"axis":{"x":"independent","y":"independent"}}},

{"width":211,"height":138,
"title":{"text":"D","font":"Liberation Sans","fontSize":11,"dx":-42,"offset":6.85},
"layer":[
{"layer":[
{"data":{"name":"D_pts"},"mark":{"type":"rule","color":"#dcdcdc","strokeWidth":0.6},"encoding":{"x":{"field":"month","type":"quantitative","scale":{"domain":[0,129],"nice":false,"zero":false},"axis":{"values":[0,12,24,36,48,60,72,84,96,108,120],"tickCount":100,"format":"d","labelOverlap":false,"title":"Age (months) (value(s) out of range)"}}}},
{"data":{"name":"D_pts"},"mark":{"type":"rule","color":"#dcdcdc","strokeWidth":0.6},"encoding":{"y":{"field":"value","type":"quantitative","scale":{"domain":[-0.5,60.5],"nice":false,"zero":false},"axis":{"values":[0,5,10,15,20,25,30,35,40,45,50,55,60],"tickCount":100,"format":"d","labelOverlap":false,"title":"Weight (kg)"}}}},
{"data":{"name":"D_curves"},"mark":{"type":"line","strokeWidth":1.1},"encoding":{"x":{"field":"month","type":"quantitative"},"y":{"field":"value","type":"quantitative"},"stroke":{"field":"sd","type":"nominal","scale":{"domain":["+3SD","+2SD","Median","-2SD","-3SD"],"range":["#333","#ff5050","#44bb44","#ff5050","#333"]},"legend":null}}},
{"data":{"name":"D_pts"},"mark":{"type":"line","color":"#8080ff","strokeWidth":1,"point":{"filled":false,"size":10,"strokeWidth":0.7,"color":"#5a5ae6"}},"encoding":{"x":{"field":"month","type":"quantitative"},"y":{"field":"value","type":"quantitative"}}},
{"data":{"name":"D_curves"},"transform":[{"filter":"datum.month == 120"}],"mark":{"type":"text","align":"left","baseline":"middle","dx":3,"fontSize":4.6,"fontWeight":"bold"},"encoding":{"x":{"field":"month","type":"quantitative"},"y":{"field":"value","type":"quantitative"},"text":{"field":"sd"},"fill":{"field":"sd","type":"nominal","scale":{"domain":["+3SD","+2SD","Median","-2SD","-3SD"],"range":["#222","#ff3333","#33aa33","#ff3333","#222"]},"legend":null}}}
]},
{"data":{"values":[{"month":0,"value":0}]},"mark":{"type":"point","opacity":0},"encoding":{"x":{"field":"month","type":"quantitative","scale":{"domain":[0,129],"nice":false,"zero":false},"axis":{"orient":"top","labels":false,"tickCount":65,"tickSize":-2,"title":"WHO child growth standards (birth to 60 months), WHO reference 2007 (61 months to 19 years)","titleFontSize":3.9,"titleColor":"#a0a0a0","titlePadding":1.75}},"y":{"field":"value","type":"quantitative","scale":{"domain":[-0.5,60.5],"nice":false,"zero":false},"axis":{"orient":"right","labels":false,"tickCount":61,"tickSize":-2,"title":null}}}}
],
"resolve":{"axis":{"x":"independent","y":"independent"}}}
]
}
